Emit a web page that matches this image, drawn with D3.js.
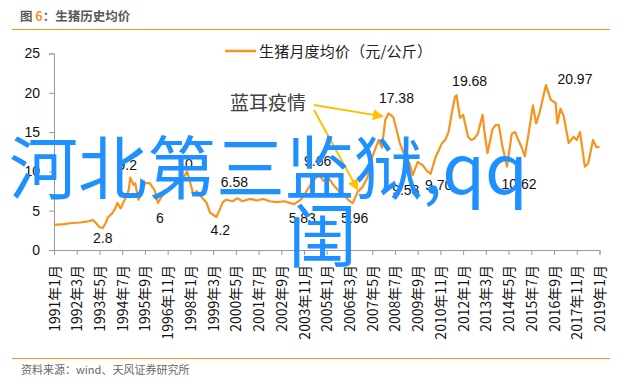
<!DOCTYPE html>
<html>
<head>
<meta charset="utf-8">
<script src="https://cdn.jsdelivr.net/npm/d3@7"></script>
<style>
  body { margin: 0; background: #fff; }
  text { font-family: "Liberation Sans", Arial, "Noto Sans CJK SC", sans-serif; }
  .cjk { font-family: "Noto Sans CJK SC", "Liberation Sans", sans-serif; }
</style>
</head>
<body>
<svg id="chart" width="640" height="386"></svg>
<script>
// monthly hog price
var months = ['1991-01','1991-07','1991-11','1992-05','1992-09','1993-01','1993-03','1993-05','1993-07','1993-09',
  '1993-10','1993-12','1994-01','1994-03','1994-04','1994-06','1994-09','1994-11','1994-12','1995-02',
  '1995-03','1995-05','1995-07','1995-09','1995-12','1996-03','1996-05','1996-08','1996-11','1997-02',
  '1997-05','1997-08','1997-11','1998-03','1998-05','1998-08','1998-11','1999-01','1999-05','1999-07',
  '1999-09','1999-11','2000-03','2000-06','2000-09','2001-02','2001-06','2001-10','2002-02','2002-06',
  '2002-11','2003-02','2003-05','2003-09','2003-12','2004-04','2004-08','2004-11','2005-02','2005-05',
  '2005-08','2005-11','2006-02','2006-05','2006-08','2006-11','2007-02','2007-05','2007-09','2007-11',
  '2008-01','2008-03','2008-06','2008-08','2008-10','2009-01','2009-04','2009-06','2009-09','2009-12',
  '2010-03','2010-05','2010-08','2010-10','2010-12','2011-02','2011-04','2011-06','2011-08','2011-09',
  '2011-11','2012-01','2012-04','2012-06','2012-08','2012-10','2013-01','2013-02','2013-04','2013-07',
  '2013-09','2013-11','2014-01','2014-04','2014-07','2014-09','2014-11','2015-01','2015-03','2015-05',
  '2015-08','2015-10','2015-12','2016-04','2016-07','2016-10','2016-11','2017-01','2017-03','2017-06',
  '2017-09','2017-11','2018-01','2018-04','2018-06','2018-09','2018-11','2019-01'];
var prices = [3.2,3.3,3.4,3.5,3.6,3.8,3.4,2.9,2.8,3.5,
  4.1,4.5,4.7,5.4,6.0,5.3,6.6,7.6,9.2,8.3,
  8.5,6.4,7.2,8.5,8.5,7.6,6.0,7.0,7.6,8.2,
  8.5,8.9,10.0,7.0,7.5,6.7,6.0,4.8,4.2,5.1,
  6.1,6.4,6.2,6.58,6.2,6.5,6.3,6.5,6.2,6.1,
  6.2,6.0,5.83,6.4,7.3,8.6,9.66,8.8,9.2,8.3,
  7.6,7.2,6.4,5.96,7.4,8.0,9.2,11.8,14.0,13.0,
  16.5,17.38,16.9,15.3,13.6,12.0,11.0,9.53,11.2,10.8,
  10.0,9.70,11.8,12.7,13.6,14.0,15.0,17.4,19.5,19.68,
  16.8,17.2,14.4,14.0,14.2,14.8,17.2,15.3,12.3,15.3,
  15.9,15.9,13.4,10.62,14.8,15.0,14.0,13.1,11.9,14.4,
  18.4,16.1,17.4,20.97,19.1,18.7,16.1,18.0,17.0,13.6,
  14.4,14.0,15.0,10.6,11.0,14.0,13.1,13.1];
var tickLabels = ['1991年1月','1992年3月','1993年5月','1994年7月','1995年9月','1996年11月','1998年1月',
  '1999年3月','2000年5月','2001年7月','2002年9月','2003年11月','2005年1月','2006年3月','2007年5月',
  '2008年7月','2009年9月','2010年11月','2012年1月','2013年3月','2014年5月','2015年7月','2016年9月',
  '2017年11月','2019年1月'];
var yTicks = [0, 5, 10, 15, 20, 25];
// point labels: [month, value, text]
var notes = [['1993-07',2.8,'2.8'],['1994-12',9.2,'9.2'],['1996-05',6,'6'],['1997-11',10,'10'],
  ['1999-05',4.2,'4.2'],['2000-06',6.58,'6.58'],['2003-05',5.83,'5.83'],['2004-08',9.66,'9.66'],
  ['2006-05',5.96,'5.96'],['2008-03',17.38,'17.38'],['2009-06',9.53,'9.53'],['2010-05',9.70,'9.70'],
  ['2011-09',19.68,'19.68'],['2014-04',10.62,'10.62'],['2016-04',20.97,'20.97']];
var noteOffsets = {'2.8':[0,10],'9.2':[-3,-13],'6':[2,15],'10':[-2,-7],'4.2':[4,13],'6.58':[-3,-16],
  '5.83':[8,14],'9.66':[-1,-13],'5.96':[2,15],'17.38':[8,-15],'9.53':[-7,15],'9.70':[8,11],
  '19.68':[13,-14],'10.62':[12,18],'20.97':[29,-6]};

var orange = '#f7931e';
var svg = d3.select('#chart');
svg.append('rect').attr('width', 640).attr('height', 386).attr('fill', '#fff');

function monthIndex(s) {
  var p = s.split('-');
  return (+p[0] - 1991) * 12 + (+p[1] - 1);
}

var x = d3.scaleLinear().domain([0, 336]).range([54, 599.5]);
var y = d3.scaleLinear().domain([0, 25]).range([250, 53.5]);

// header
var title = svg.append('text').attr('x', 20).attr('y', 21)
  .attr('class', 'cjk').style('font-size', '12.5px').style('font-weight', 'bold').attr('fill', '#595959');
title.append('tspan').text('图 ');
title.append('tspan').attr('fill', orange).text('6');
title.append('tspan').text('：生猪历史均价');
svg.append('line').attr('x1', 12).attr('x2', 610).attr('y1', 29.5).attr('y2', 29.5)
  .attr('stroke', orange).attr('stroke-width', 1.2);

// legend
svg.append('line').attr('x1', 225).attr('x2', 256).attr('y1', 51).attr('y2', 51)
  .attr('stroke', orange).attr('stroke-width', 2.5);
svg.append('text').attr('class', 'cjk').attr('x', 259).attr('y', 56.5)
  .attr('textLength', 173).attr('lengthAdjust', 'spacing')
  .style('font-size', '15px').attr('fill', '#222').text('生猪月度均价（元/公斤）');

// axes
var yAxis = d3.axisLeft(y).tickValues(yTicks).tickSize(5).tickPadding(9);
var gy = svg.append('g').attr('transform', 'translate(54,0)').call(yAxis);
gy.select('.domain').attr('stroke', '#999');
gy.selectAll('.tick line').attr('stroke', '#999');
gy.selectAll('.tick text').style('font-size', '14px').attr('fill', '#111')
  .style('font-family', '"Liberation Sans", Arial, sans-serif');

var tickIdx = tickLabels.map(function(d, i) { return i * 14; });
var xAxis = d3.axisBottom(x).tickValues(tickIdx).tickSize(5).tickFormat(function(d, i) { return tickLabels[i]; });
var gx = svg.append('g').attr('transform', 'translate(0,250)').call(xAxis);
gx.select('.domain').attr('stroke', '#999');
gx.selectAll('.tick line').attr('stroke', '#999');
gx.selectAll('.tick text')
  .attr('class', 'cjk')
  .style('font-size', '14px').attr('fill', '#111')
  .attr('text-anchor', 'end').attr('dy', null).attr('y', 0)
  .attr('transform', 'translate(5,15) rotate(-90)');

// line
var pts = months.map(function(m, i) { return [monthIndex(m), prices[i]]; });
var line = d3.line().x(function(d) { return x(d[0]); }).y(function(d) { return y(d[1]); });
svg.append('path').datum(pts).attr('d', line).attr('fill', 'none')
  .attr('stroke', orange).attr('stroke-width', 2.2).attr('stroke-linejoin', 'round');

// point labels
svg.selectAll('.note').data(notes).enter().append('text')
  .attr('class', 'note')
  .attr('x', function(d) { return x(monthIndex(d[0])) + noteOffsets[d[2]][0]; })
  .attr('y', function(d) { return y(d[1]) + noteOffsets[d[2]][1]; })
  .attr('text-anchor', 'middle').attr('dy', '0.35em')
  .style('font-size', '14px').attr('fill', '#111').text(function(d) { return d[2]; });

// blue-ear disease callout
svg.append('defs').append('marker').attr('id', 'head')
  .attr('viewBox', '0 0 10 10').attr('refX', 9).attr('refY', 5)
  .attr('markerWidth', 5.5).attr('markerHeight', 5.5).attr('orient', 'auto')
  .append('path').attr('d', 'M0,0L10,5L0,10Z').attr('fill', '#ffc000');
svg.append('text').attr('class', 'cjk').attr('x', 230).attr('y', 110)
  .style('font-size', '19px').attr('fill', '#404040').text('蓝耳疫情');
svg.append('line').attr('x1', 314).attr('y1', 105)
  .attr('x2', x(monthIndex('2008-02')) - 4).attr('y2', y(17.0))
  .attr('stroke', '#ffc000').attr('stroke-width', 2).attr('marker-end', 'url(#head)');
svg.append('line').attr('x1', 314).attr('y1', 110)
  .attr('x2', x(monthIndex('2006-08'))).attr('y2', y(7.7))
  .attr('stroke', '#ffc000').attr('stroke-width', 2).attr('marker-end', 'url(#head)');

// footer
svg.append('line').attr('x1', 12).attr('x2', 610).attr('y1', 358.5).attr('y2', 358.5)
  .attr('stroke', orange).attr('stroke-width', 1.2);
svg.append('text').attr('class', 'cjk').attr('x', 21).attr('y', 374)
  .style('font-size', '11px').attr('fill', '#666').text('资料来源：wind、天风证券研究所');

// watermark overlay
var wm = svg.append('g').attr('class', 'cjk').attr('fill', '#1e90ff').style('font-size', '69px');
wm.append('text').attr('class', 'cjk').attr('x', 9).attr('y', 194).text('河北第三监狱,qq');
wm.append('text').attr('class', 'cjk').attr('x', 288).attr('y', 262).text('闺');
</script>
</body>
</html>
